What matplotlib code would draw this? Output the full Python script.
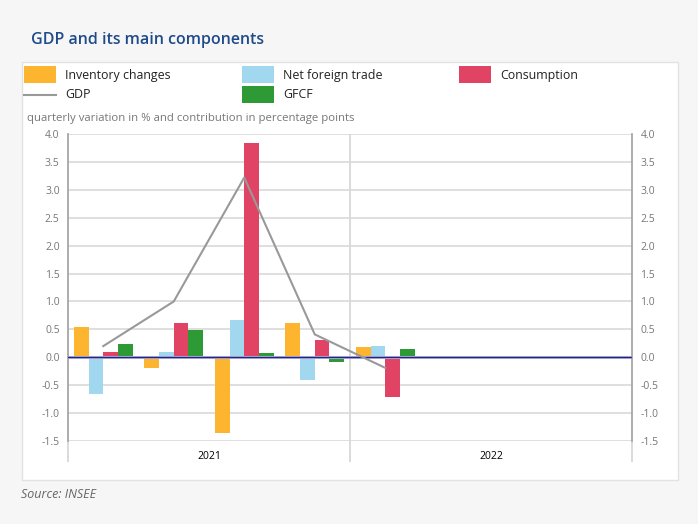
import numpy as np
import matplotlib.pyplot as plt
from matplotlib.patches import Rectangle
from matplotlib.lines import Line2D

plt.rcParams['font.family'] = ['Open Sans', 'DejaVu Sans']

# Données (trimestres 2021 T1 .. 2022 T4, seules 5 valeurs publiées)
quarters = ['2021 Q1', '2021 Q2', '2021 Q3', '2021 Q4', '2022 Q1', '2022 Q2', '2022 Q3', '2022 Q4']
years = ['2021', '2022']
inventory = [0.55, -0.19, -1.35, 0.62, 0.18, np.nan, np.nan, np.nan]
net_trade = [-0.65, 0.09, 0.67, -0.41, 0.20, np.nan, np.nan, np.nan]
consumption = [0.09, 0.61, 3.84, 0.31, -0.72, np.nan, np.nan, np.nan]
gfcf = [0.24, 0.48, 0.07, -0.08, 0.15, np.nan, np.nan, np.nan]
gdp = [0.20, 1.00, 3.22, 0.41, -0.19, np.nan, np.nan, np.nan]

c_inv = '#fdb42f'
c_nft = '#a2d8ef'
c_cons = '#e14365'
c_gfcf = '#2e9a35'
c_gdp = '#999999'
grey_txt = '#777777'

fig = plt.figure(figsize=(6.98, 5.24), dpi=100)
fig.patch.set_facecolor('#f6f6f6')
W, H = 698, 524

# panneau blanc
fig.patches.append(Rectangle((22 / W, 1 - 480 / H), 656 / W, 418 / H, transform=fig.transFigure,
                             facecolor='white', edgecolor='#e2e2e2', lw=1, zorder=-5))

ax = fig.add_axes([68 / W, 1 - 441 / H, 564 / W, 307 / H])
ax.set_facecolor('white')

x = np.arange(len(quarters)) + 0.5
w = 0.208
ax.bar(x - 1.5 * w, inventory, w, color=c_inv, zorder=3)
ax.bar(x - 0.5 * w, net_trade, w, color=c_nft, zorder=3)
ax.bar(x + 0.5 * w, consumption, w, color=c_cons, zorder=3)
ax.bar(x + 1.5 * w, gfcf, w, color=c_gfcf, zorder=3)
ax.plot(x, gdp, color=c_gdp, lw=1.5, zorder=4)

ax.axhline(0, color='#b9b9e6', lw=2.2, zorder=3.5)
ax.axhline(0, color='#25257a', lw=1.0, zorder=3.6)

ax.set_xlim(0, 8)
ax.set_ylim(-1.5, 4.0)
yt = np.arange(-1.5, 4.01, 0.5)
ax.set_yticks(yt)
ax.set_yticklabels([f'{v:.1f}' for v in yt])
ax.grid(axis='y', color='#d9d9d9', lw=1.2, zorder=0)
ax.axvline(4, color='#d4d4d4', lw=1.2, zorder=1)

ax.set_xticks([0, 4, 8])
ax.set_xticklabels([])
ax.set_xticks([2, 6], minor=True)
ax.set_xticklabels(years, minor=True)
ax.tick_params(axis='x', which='major', length=15, color='#d4d4d4', width=1.2)
ax.tick_params(axis='x', which='minor', length=0, labelsize=7.5, labelcolor='black', pad=7)
ax.tick_params(axis='y', length=0, labelsize=7.5, labelcolor=grey_txt, pad=6,
               labelleft=True, labelright=True)

for s in ['top', 'bottom']:
    ax.spines[s].set_visible(False)
for s in ['left', 'right']:
    ax.spines[s].set_color('#a0a0a0')
    ax.spines[s].set_linewidth(1.2)

# titre et légende
fig.text(31 / W, 1 - 40 / H, 'GDP and its main components', fontsize=11.5, weight='semibold',
         color='#1f4b8a', va='center')

def patch(x0, y0, col, label):
    fig.patches.append(Rectangle((x0 / W, 1 - (y0 + 17) / H), 32 / W, 17 / H,
                                 transform=fig.transFigure, facecolor=col, edgecolor='none'))
    fig.text((x0 + 41) / W, 1 - (y0 + 9) / H, label, fontsize=8.9, color='#222222', va='center')

patch(24, 66, c_inv, 'Inventory changes')
patch(242, 66, c_nft, 'Net foreign trade')
patch(459, 66, c_cons, 'Consumption')
patch(242, 86, c_gfcf, 'GFCF')
fig.lines.append(Line2D([24 / W, 56 / W], [1 - 95 / H, 1 - 95 / H], transform=fig.transFigure,
                        color=c_gdp, lw=1.5))
fig.text(65 / W, 1 - 95 / H, 'GDP', fontsize=8.9, color='#222222', va='center')

fig.text(27 / W, 1 - 118 / H, 'quarterly variation in % and contribution in percentage points',
         fontsize=8.2, color=grey_txt, va='center')
fig.text(21 / W, 1 - 495 / H, 'Source: INSEE', fontsize=9, style='italic', color='#666666', va='center')

plt.savefig('out.png', dpi=100, facecolor=fig.get_facecolor())
